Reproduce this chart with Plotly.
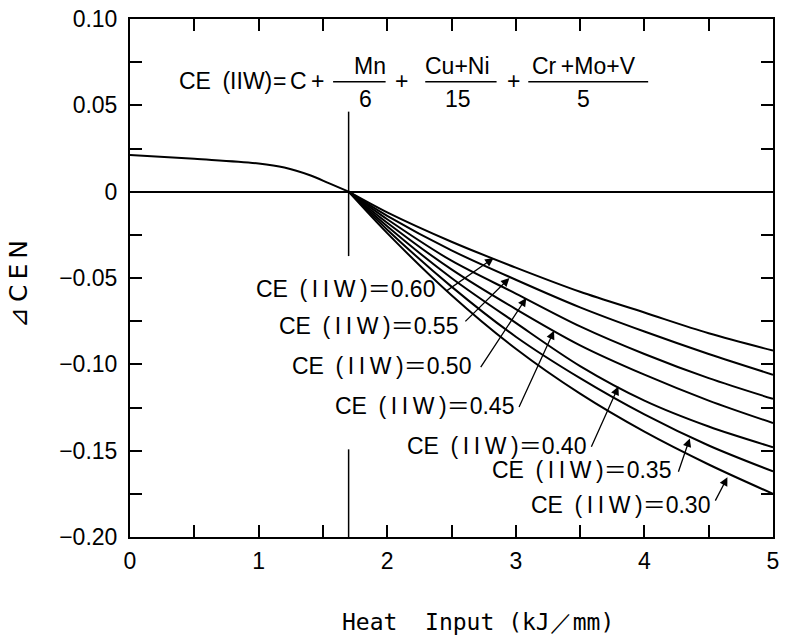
import plotly.graph_objects as go

# ---------------- data ----------------
heat_top = [0.0, 0.5, 1.0, 1.2, 1.4, 1.55, 1.7]
dcen_top = [0.0213, 0.0190, 0.0163, 0.0140, 0.0095, 0.0048, 0.0]

heat_fan = [1.7, 2.0, 2.5, 3.0, 3.5, 4.0, 4.5, 5.0]
ce_values = [0.60, 0.55, 0.50, 0.45, 0.40, 0.35, 0.30]
dcen_ce060 = [0.0, -0.012, -0.029, -0.044, -0.058, -0.070, -0.082, -0.092]
dcen_ce055 = [0.0, -0.014, -0.034, -0.051, -0.067, -0.081, -0.094, -0.106]
dcen_ce050 = [0.0, -0.016, -0.040, -0.059, -0.078, -0.094, -0.108, -0.120]
dcen_ce045 = [0.0, -0.018, -0.045, -0.068, -0.089, -0.106, -0.121, -0.134]
dcen_ce040 = [0.0, -0.020, -0.050, -0.076, -0.101, -0.121, -0.136, -0.148]
dcen_ce035 = [0.0, -0.022, -0.055, -0.084, -0.108, -0.129, -0.147, -0.162]
dcen_ce030 = [0.0, -0.024, -0.060, -0.091, -0.117, -0.139, -0.158, -0.175]
fan_series = [dcen_ce060, dcen_ce055, dcen_ce050, dcen_ce045,
              dcen_ce040, dcen_ce035, dcen_ce030]

heat_cross = 1.7
x_ticks = [0, 0.5, 1, 1.5, 2, 2.5, 3, 3.5, 4, 4.5, 5]
x_ticktext = ["0", "", "1", "", "2", "", "3", "", "4", "", "5"]
y_ticks = [-0.2, -0.175, -0.15, -0.125, -0.1, -0.075, -0.05, -0.025,
           0.0, 0.025, 0.05, 0.075, 0.1]
y_ticktext = ["−0.20", "", "−0.15", "", "−0.10", "", "−0.05", "",
              "0", "", "0.05", "", "0.10"]

# ---------------- layout helpers (pixel -> data) ----------------
L, R, T, B = 130, 6, 17, 98
W, H = 785, 635
PW, PH = W - L - R, H - T - B


def X(px):
    return (px - L) / PW * 5.0


def Y(py):
    return 0.1 - (py - T) / PH * 0.3


TXT = "Liberation Sans, Arial, Noto Sans CJK JP, sans-serif"
LW = 2.0

fig = go.Figure()
fig.add_trace(go.Scatter(x=heat_top, y=dcen_top, mode="lines",
                         line=dict(color="black", width=LW, shape="spline"),
                         showlegend=False, hoverinfo="skip"))
for ce, ys in zip(ce_values, fan_series):
    fig.add_trace(go.Scatter(x=heat_fan, y=ys, mode="lines", name=f"CE {ce:.2f}",
                             line=dict(color="black", width=LW, shape="spline",
                                       smoothing=0.9),
                             showlegend=False, hoverinfo="skip"))

shapes = []
# vertical reference line at the crossing point (two segments)
shapes.append(dict(type="line", xref="x", yref="y", x0=heat_cross, x1=heat_cross,
                   y0=Y(110), y1=Y(255), line=dict(color="black", width=1.5)))
shapes.append(dict(type="line", xref="x", yref="y", x0=heat_cross, x1=heat_cross,
                   y0=Y(449), y1=-0.2, line=dict(color="black", width=1.5)))

annotations = []


def txt(px, py, s, size=23, anchor="center", family=TXT):
    annotations.append(dict(x=X(px), y=Y(py), xref="x", yref="y", text=s,
                            showarrow=False, xanchor=anchor, yanchor="middle",
                            font=dict(family=family, size=size, color="black")))


# formula
fy, ny, dy = 79, 64, 97
txt(177, fy, "CE\u2002(IIW)", anchor="left", size=23)
txt(281, fy, "=", size=23)
txt(300, fy, "C", size=23)
txt(319, fy, "+", size=23)
txt(372, ny, "Mn", size=23)
txt(368, dy, "6", size=23)
txt(404, fy, "+", size=23)
txt(461, ny, "Cu+Ni", size=23)
txt(461, dy, "15", size=23)
txt(517, fy, "+", size=23)
txt(588, ny, "Cr\u2009+Mo+V", size=23)
txt(588, dy, "5", size=23)
for x0, x1 in [(335, 388), (428, 500), (532, 653)]:
    shapes.append(dict(type="line", xref="x", yref="y", x0=X(x0), x1=X(x1),
                       y0=Y(80), y1=Y(80), line=dict(color="black", width=1.5)))

# curve labels with leader arrows
label_pos = [(440, 288), (463, 325), (476, 365), (520, 405),
             (592, 446), (678, 470), (717, 505)]
arrow_tail = [(448, 291), (467, 322), (483, 368), (522, 408),
              (595, 448), (683, 473), (720, 502)]
arrow_tip = [(497, 257), (513, 277), (530, 297), (558, 330),
             (623, 386), (695, 438), (733, 477)]
for ce, (lx, ly), (tx, ty), (hx, hy) in zip(ce_values, label_pos, arrow_tail, arrow_tip):
    txt(lx, ly, f"CE\u2002(\u2009I\u2009I\u2009W\u2009)＝{ce:.2f}", anchor="right")
    annotations.append(dict(x=X(hx), y=Y(hy), ax=X(tx), ay=Y(ty), xref="x", yref="y",
                            axref="x", ayref="y", text="", showarrow=True,
                            arrowhead=2, arrowsize=1.3, arrowwidth=1.3,
                            arrowcolor="black", standoff=0))

# axis titles
annotations.append(dict(x=(481 - L) / PW, y=(H - B - 622) / PH, xref="paper", yref="paper",
                        text="Heat\u00a0\u00a0Input\u00a0(kJ／mm)", showarrow=False,
                        xanchor="center", yanchor="middle",
                        font=dict(family="DejaVu Sans Mono, monospace", size=23, color="black")))
annotations.append(dict(x=(18 - L) / PW, y=(H - B - 283) / PH, xref="paper", yref="paper",
                        text="⊿\u2009C\u2009E\u2009N", showarrow=False, textangle=-90,
                        xanchor="center", yanchor="middle",
                        font=dict(family="DejaVu Sans, sans-serif", size=25, color="black")))

axis_common = dict(showgrid=False, showline=True, linecolor="black", linewidth=LW,
                   mirror="ticks", ticks="inside", ticklen=12, tickwidth=1.5,
                   tickcolor="black", tickfont=dict(family=TXT, size=23, color="black"))

fig.update_layout(
    width=W, height=H,
    margin=dict(l=L, r=R, t=T, b=B),
    paper_bgcolor="white", plot_bgcolor="white",
    shapes=shapes, annotations=annotations,
    xaxis=dict(range=[0, 5], tickvals=x_ticks, ticktext=x_ticktext,
               zeroline=False, ticklabelstandoff=2, **axis_common),
    yaxis=dict(range=[-0.2, 0.1], tickvals=y_ticks, ticktext=y_ticktext,
               zeroline=True, zerolinecolor="black", zerolinewidth=1.5,
               ticklabelstandoff=6, **axis_common),
)

fig.write_html("out.html")
